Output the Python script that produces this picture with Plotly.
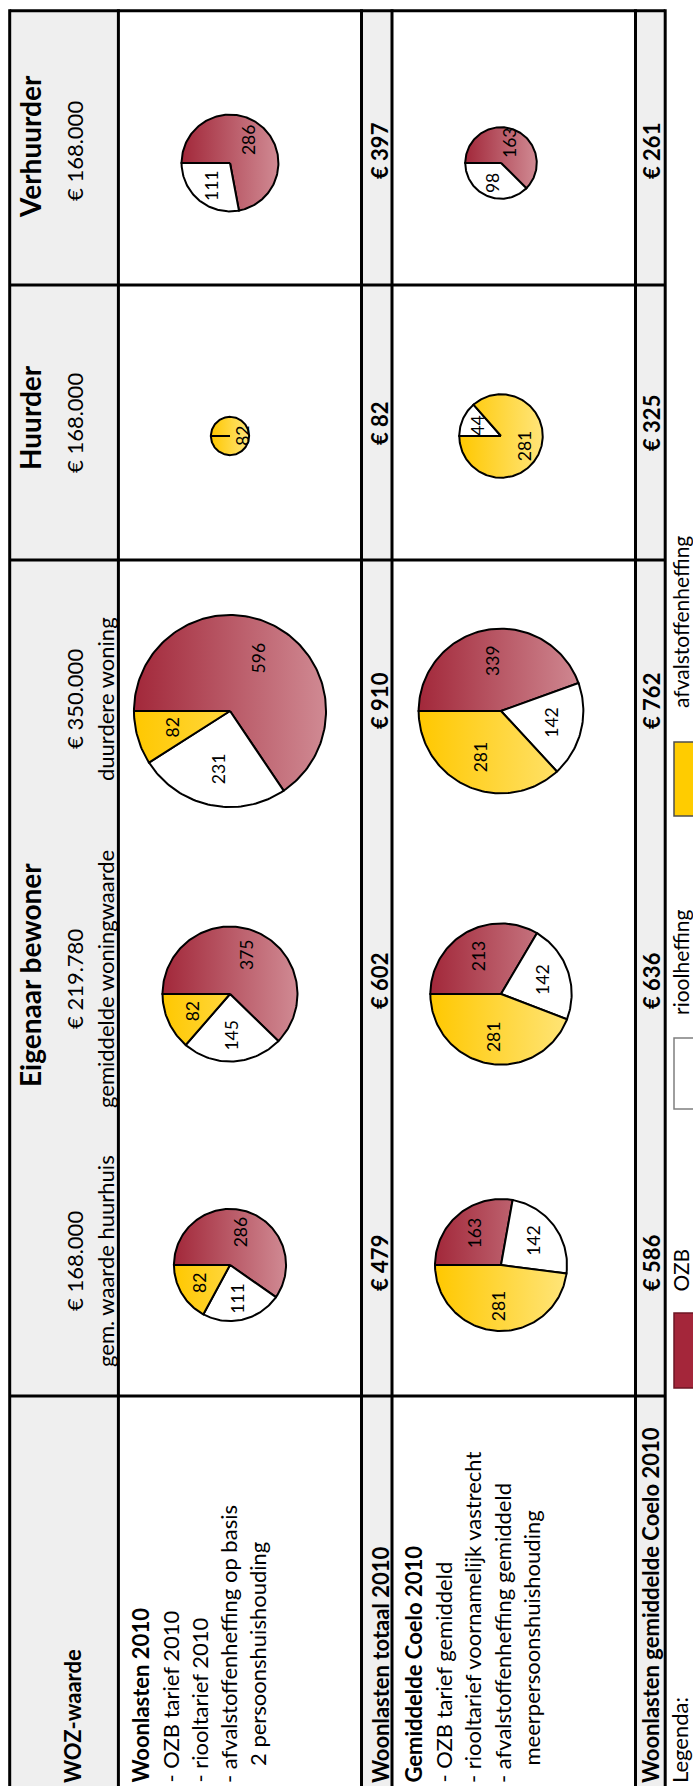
import math
import plotly.graph_objects as go

# ---------------------------------------------------------------- data ----
categories = ["OZB", "rioolheffing", "afvalstoffenheffing"]

# rows of the (rotated) table, top to bottom
groups = ["Verhuurder", "Huurder", "Eigenaar bewoner"]
woz_values = ["€ 168.000", "€ 168.000", "€ 350.000", "€ 219.780", "€ 168.000"]
woz_notes = ["", "", "duurdere woning", "gemiddelde woningwaarde", "gem. waarde huurhuis"]

# Woonlasten 2010
ozb_2010 = [286, 0, 596, 375, 286]
riool_2010 = [111, 0, 231, 145, 111]
afval_2010 = [0, 82, 82, 82, 82]
totaal_2010 = [397, 82, 910, 602, 479]

# Gemiddelde Coelo 2010
ozb_coelo = [163, 0, 339, 213, 163]
riool_coelo = [98, 44, 142, 142, 142]
afval_coelo = [0, 281, 281, 281, 281]
totaal_coelo = [261, 325, 762, 636, 586]

lines_2010 = ["<b>Woonlasten 2010</b>", "- OZB tarief 2010", "- riooltarief 2010",
              "- afvalstoffenheffing op basis", "2 persoonshuishouding"]
lines_coelo = ["<b>Gemiddelde Coelo 2010</b>", "- OZB tarief gemiddeld",
               "- riooltarief voornamelijk vastrecht", "- afvalstoffenheffing gemiddeld",
               "meerpersoonshuishouding"]

# -------------------------------------------------------------- layout ----
W, H = 693, 1786
FONT = "Lato"
col_x = [9.7, 118.4, 361.5, 392.0, 635.5, 665.2]
row_y = [10.7, 285.0, 560.0, 1396.0]
cell_mid = [149, 421, 699, 979, 1261]
group_mid = [147, 418, 975]
pie_mid = [163, 436, 711, 994, 1265]
pie_cx = [230, 501]
GRAY = "#efefef"

RED_DARK, RED_LIGHT = "#a2283a", "#d08a93"
YEL_DARK, YEL_LIGHT = "#ffc800", "#ffe57a"

fig = go.Figure()


def vtext(x, y, text, size, yanchor="middle", color="black"):
    fig.add_annotation(x=x, y=y, xref="x", yref="y", text=text, textangle=-90,
                       showarrow=False, xanchor="center", yanchor=yanchor,
                       font=dict(family=FONT, size=size, color=color))


def pie_radius(total):
    return 11.5 + 0.093 * total


def add_pie(cx, cy, values):
    total = sum(values)
    r = pie_radius(total)
    start = 180.0
    for v, cat in zip(values, categories):
        if v <= 0:
            continue
        sweep = 360.0 * v / total
        n = max(int(sweep / 1.5), 6)
        angs = [start - sweep * i / n for i in range(n + 1)]
        xs = [cx] + [cx + r * math.cos(math.radians(a)) for a in angs] + [cx]
        ys = [cy] + [cy - r * math.sin(math.radians(a)) for a in angs] + [cy]
        kw = dict(x=xs, y=ys, mode="lines", fill="toself", hoverinfo="skip",
                  showlegend=False, line=dict(color="black", width=2))
        if cat == "OZB":
            kw["fillgradient"] = dict(type="horizontal", start=cx - r, stop=cx + r,
                                      colorscale=[[0, RED_DARK], [1, RED_LIGHT]])
        elif cat == "afvalstoffenheffing":
            kw["fillgradient"] = dict(type="horizontal", start=cx - r, stop=cx + r,
                                      colorscale=[[0, YEL_DARK], [1, YEL_LIGHT]])
        else:
            kw["fillcolor"] = "white"
        fig.add_trace(go.Scatter(**kw))
        mid = math.radians(start - sweep / 2)
        vtext(cx + 0.62 * r * math.cos(mid), cy - 0.62 * r * math.sin(mid), str(v), 17.5)
        start -= sweep


# grey bands
for x0, x1 in [(col_x[0], col_x[1]), (col_x[2], col_x[3]), (col_x[4], col_x[5])]:
    fig.add_shape(type="rect", x0=x0, x1=x1, y0=row_y[0], y1=H + 10,
                  fillcolor=GRAY, line_width=0, layer="below")

# pies
for i in range(5):
    add_pie(pie_cx[0], pie_mid[i], [ozb_2010[i], riool_2010[i], afval_2010[i]])
    add_pie(pie_cx[1], pie_mid[i], [ozb_coelo[i], riool_coelo[i], afval_coelo[i]])

# table rules
for x in col_x:
    fig.add_shape(type="line", x0=x, x1=x, y0=row_y[0] - 1.5, y1=H + 10,
                  line=dict(color="black", width=3))
for y in row_y:
    fig.add_shape(type="line", x0=col_x[0], x1=col_x[-1], y0=y, y1=y,
                  line=dict(color="black", width=3))

# header column
for g, ym in zip(groups, group_mid):
    vtext(30, ym, f"<b>{g}</b>", 28)
for i in range(5):
    vtext(74, cell_mid[i] + (2 if i < 2 else 0), woz_values[i], 22)
    if woz_notes[i]:
        vtext(105, cell_mid[i], woz_notes[i], 22)

# totals
for i in range(5):
    vtext(379, cell_mid[i] + 2, f"<b>€ {totaal_2010[i]}</b>", 22)
    vtext(651, cell_mid[i] + 2, f"<b>€ {totaal_coelo[i]}</b>", 22)

# row labels along the bottom
BOTTOM = H - 1
vtext(72, BOTTOM, "<b>WOZ-waarde</b>", 22, yanchor="bottom")
for k, (txt, xc) in enumerate(zip(lines_2010, [140, 169.5, 199, 228, 257])):
    vtext(xc, BOTTOM - (17 if k == 4 else 0), txt, 22, yanchor="bottom")
vtext(380, BOTTOM, "<b>Woonlasten totaal 2010</b>", 22, yanchor="bottom")
for k, (txt, xc) in enumerate(zip(lines_coelo, [413, 443, 472.5, 502, 531])):
    vtext(xc, BOTTOM - (17 if k == 4 else 0), txt, 22, yanchor="bottom")
vtext(650, BOTTOM, "<b>Woonlasten gemiddelde Coelo 2010</b>", 22, yanchor="bottom")

# legend
vtext(679, BOTTOM, "Legenda:", 22, yanchor="bottom")
legend_fill = ["#a4263a", "#ffffff", "#ffcc00"]
legend_edge = ["#6e1624", "#7f7f7f", "#4d4d4d"]
swatch_y = [(1313, 1388), (1038, 1109), (742, 816)]
label_end = [1294, 1017, 710]
for cat, fc, ec, (y0, y1), ye in zip(categories, legend_fill, legend_edge, swatch_y, label_end):
    fig.add_shape(type="rect", x0=674, x1=702, y0=y0, y1=y1, fillcolor=fc,
                  line=dict(color=ec, width=1.5))
    vtext(680, ye, cat, 21, yanchor="bottom")

fig.update_layout(
    width=W, height=H, margin=dict(l=0, r=0, t=0, b=0),
    paper_bgcolor="white", plot_bgcolor="white", showlegend=False,
    xaxis=dict(range=[0, W], visible=False, fixedrange=True),
    yaxis=dict(range=[H, 0], visible=False, fixedrange=True),
)

fig.write_html("out.html")
